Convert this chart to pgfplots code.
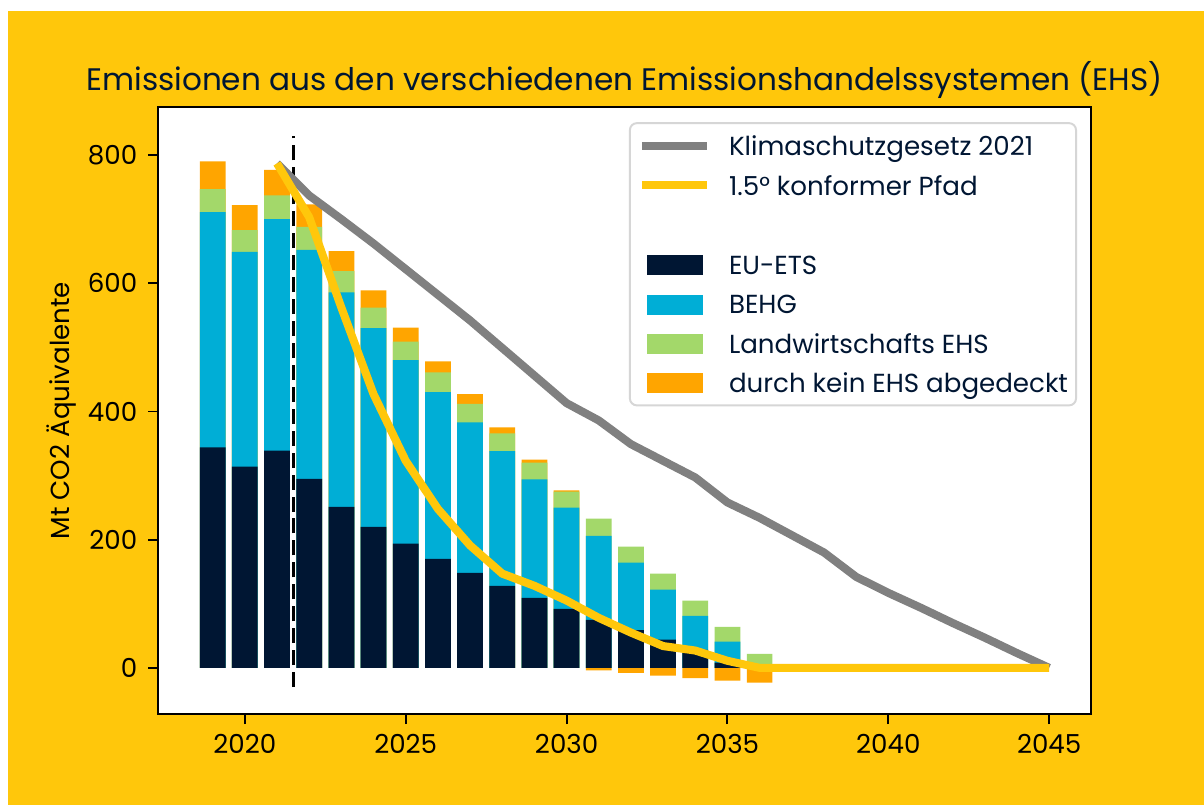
\documentclass[border=0pt]{standalone}
\usepackage{fontspec}
\setmainfont{Poppins}
\usepackage{pgfplots}
\pgfplotsset{compat=1.18}
\usepackage{pgfplotstable}
\definecolor{bgyellow}{RGB}{255,199,11}
\definecolor{navy}{RGB}{0,22,51}
\definecolor{ehsblue}{RGB}{0,174,214}
\definecolor{ehsgreen}{RGB}{163,216,106}
\definecolor{ehsorange}{RGB}{255,165,0}
\definecolor{ksggray}{RGB}{128,128,128}
\definecolor{legframe}{RGB}{214,214,214}
\pgfplotsset{
  mylinelegend/.style={legend image code/.code={\draw[##1] (0pt,0pt) -- (23.4pt,0pt); \path (29.9pt,0pt);}},
  mybarlegend/.style={legend image code/.code={\fill[sharp corners,##1,draw=none] (1.8pt,-3.9pt) rectangle (21.9pt,3.3pt); \path (29.9pt,0pt);}},
}
\pgfplotstableread{
year ets behg lw kein
2019 344 367 36 43
2020 314 335 34 39
2021 339 361 37 40
2022 295 357 36 35
2023 251 335 33 31
2024 220 310 32 27
2025 194 286 29 22
2026 170 260 31 17
2027 148 235 29 15
2028 128 210 28 9
2029 109 185 26 5
2030 92 158 25 2
2031 75 131 27 -4
2032 59 105 25 -8
2033 44 78 25 -12
2034 28 53 24 -16
2035 8 33 23 -20
2036 0 2 20 -23
}\bars
\pgfplotstableread{
year v
2021 787
2022 737
2023 700
2024 662
2025 622
2026 582
2027 542
2028 499
2029 456
2030 413
2031 386
2032 349
2033 323
2034 297
2035 258
2036 234
2037 207
2038 180
2039 142
2040 117
2041 94
2042 70
2043 47
2044 23
2045 0
}\ksg
\pgfplotstableread{
year v
2021 787
2022 703
2023 562
2024 427
2025 323
2026 248
2027 191
2028 147
2029 128
2030 105
2031 78
2032 55
2033 34
2034 27
2035 11
2036 0
2037 0
2038 0
2039 0
2040 0
2041 0
2042 0
2043 0
2044 0
2045 0
}\pfad
\begin{document}
\begin{tikzpicture}
\path[use as bounding box] (0,0) rectangle (433.44pt,289.8pt);
\fill[white] (0,0) rectangle (433.44pt,289.8pt);
\fill[bgyellow] (2.88pt,0) rectangle (433.44pt,285.84pt);
\begin{axis}[
  at={(56.88pt,32.76pt)}, anchor=south west, scale only axis,
  width=335.88pt, height=218.52pt,
  xmin=2017.3, xmax=2046.3, ymin=-72, ymax=875,
  clip=false,
  axis background/.style={fill=white},
  axis line style={line width=0.75pt, black},
  xtick={2020,2025,...,2045}, ytick={0,200,...,800},
  xtick pos=bottom, ytick pos=left, tick align=outside,
  major tick length=3.6pt,
  tick style={line width=0.7pt, black},
  /pgf/number format/1000 sep={},
  /pgf/number format/assume math mode=true,
  ticklabel style={font=\fontsize{9.4}{11}\selectfont, text=black},
  xticklabel style={inner sep=0pt, anchor=north},
  yticklabel style={inner sep=0pt, anchor=east},
  xticklabel shift=3.6pt, yticklabel shift=3.7pt,
  title={Emissionen aus den verschiedenen Emissionshandelssystemen (EHS)},
  title style={at={(0.5,1)}, anchor=base, yshift=-0.1pt, inner sep=0pt,
    font=\fontsize{11.2}{13}\selectfont, text=navy},
  legend cell align=left,
  legend style={at={(0.985,0.975)}, anchor=north east,
    draw=legframe, line width=0.7pt, rounded corners=2.5pt, fill=white,
    font=\fontsize{9.4}{11}\selectfont, text=navy,
    inner xsep=2.9pt, inner ysep=3.6pt, row sep=5.0pt,
    nodes={inner sep=0pt, text height=8.2pt, text depth=1pt}},
  ybar, bar width=0.8, bar shift=0pt,
]
\addlegendimage{mylinelegend, ksggray, line width=2.9pt}
\addlegendentry{Klimaschutzgesetz 2021}
\addlegendimage{mylinelegend, bgyellow, line width=2.9pt}
\addlegendentry{1.5° konformer Pfad}
\addlegendimage{empty legend}
\addlegendentry{}
\addlegendimage{mybarlegend, fill=navy}
\addlegendentry{EU-ETS}
\addlegendimage{mybarlegend, fill=ehsblue}
\addlegendentry{BEHG}
\addlegendimage{mybarlegend, fill=ehsgreen}
\addlegendentry{Landwirtschafts EHS}
\addlegendimage{mybarlegend, fill=ehsorange}
\addlegendentry{durch kein EHS abgedeckt}

\addplot[forget plot, fill=ehsorange, draw=none] table[x=year, y expr={\thisrow{kein}>0 ? (\thisrow{ets}+\thisrow{behg}+\thisrow{lw}+\thisrow{kein}) : \thisrow{kein}}] {\bars};
\addplot[forget plot, fill=ehsgreen, draw=none] table[x=year, y expr={\thisrow{ets}+\thisrow{behg}+\thisrow{lw}}] {\bars};
\addplot[forget plot, fill=ehsblue, draw=none] table[x=year, y expr={\thisrow{ets}+\thisrow{behg}}] {\bars};
\addplot[forget plot, fill=navy, draw=none] table[x=year, y=ets] {\bars};

\addplot[forget plot, sharp plot, black, line width=1.1pt, dash pattern=on 5.4pt off 2.5pt] coordinates {(2021.5,-30) (2021.5,830)};
\addplot[forget plot, sharp plot, ksggray, line width=2.9pt, line join=round] table[x=year, y=v] {\ksg};
\addplot[forget plot, sharp plot, bgyellow, line width=2.9pt, line join=round] table[x=year, y=v] {\pfad};

\node[rotate=90, anchor=base, inner sep=0pt, font=\fontsize{9.4}{11}\selectfont, text=black]
  at ([xshift=-31.7pt]rel axis cs:0,0.5) {Mt CO2 Äquivalente};
\end{axis}
\end{tikzpicture}
\end{document}
